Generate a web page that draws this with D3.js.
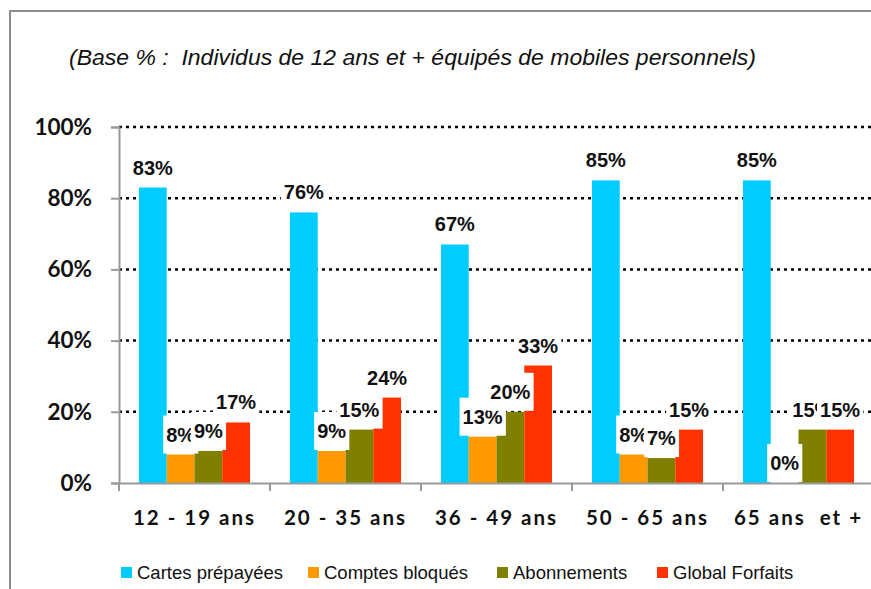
<!DOCTYPE html>
<html>
<head>
<meta charset="utf-8">
<script src="https://cdn.jsdelivr.net/npm/d3@7"></script>
<style>
  body { margin: 0; background: #fff; }
  svg { display: block; }
</style>
</head>
<body>
<svg id="chart"></svg>
<script>
// data
const categories = ["12 - 19 ans", "20 - 35 ans", "36 - 49 ans", "50 - 65 ans", "65 ans et +"];
const seriesNames = ["Cartes prépayées", "Comptes bloqués", "Abonnements", "Global Forfaits"];
const cartes = [83, 76, 67, 85, 85];
const comptes = [8, 9, 13, 8, 0];
const abonnements = [9, 15, 20, 7, 15];
const forfaits = [17, 24, 33, 15, 15];
const yTicks = [0, 20, 40, 60, 80, 100];
const colors = ["#00CCFF", "#FF9900", "#808000", "#FF3300"];
const subtitle = "(Base % :  Individus de 12 ans et + équipés de mobiles personnels)";

const values = [cartes, comptes, abonnements, forfaits];

const W = 871, H = 589;
const svg = d3.select("#chart").attr("width", W).attr("height", H);

// outer frame
svg.append("rect")
  .attr("x", 10).attr("y", 11)
  .attr("width", W + 20).attr("height", H + 20)
  .attr("fill", "none")
  .attr("stroke", "#8c8c8c")
  .attr("stroke-width", 2);

svg.append("text")
  .attr("x", 69).attr("y", 65)
  .attr("textLength", 687)
  .attr("lengthAdjust", "spacingAndGlyphs")
  .style("font-family", "'Liberation Sans Narrow', 'Arial Narrow', 'Liberation Sans', sans-serif")
  .style("font-style", "italic")
  .style("font-size", "22px")
  .style("fill", "#111")
  .style("white-space", "pre")
  .text(subtitle);

const plotLeft = 119, plotRight = 874, plotTop = 127, plotBottom = 483;

const x0 = d3.scaleBand()
  .domain(categories)
  .range([plotLeft, plotRight])
  .padding(0);

const x1 = d3.scaleBand()
  .domain(seriesNames)
  .range([0, x0.bandwidth()])
  .paddingInner(0)
  .paddingOuter(0.72);

const y = d3.scaleLinear().domain([0, 100]).range([plotBottom, plotTop]);

// gridlines
svg.append("g").selectAll("line")
  .data(yTicks.filter(d => d > 0))
  .join("line")
  .attr("x1", plotLeft).attr("x2", W)
  .attr("y1", d => y(d)).attr("y2", d => y(d))
  .attr("stroke", "#000")
  .attr("stroke-width", 2.5)
  .attr("stroke-dasharray", "3,4");

// y axis
const yAxis = svg.append("g")
  .attr("transform", `translate(${plotLeft},0)`)
  .call(d3.axisLeft(y).tickValues(yTicks).tickSize(8).tickPadding(19).tickFormat(d => d + "%"));
yAxis.select(".domain").attr("stroke", "#999").attr("stroke-width", 2);
yAxis.selectAll(".tick line").attr("stroke", "#999").attr("stroke-width", 2);
yAxis.selectAll(".tick text")
  .style("font-family", "Lato, 'Open Sans', sans-serif")
  .style("font-weight", "bold")
  .style("font-size", "22.5px")
  .style("fill", "#111");

// bars
const groups = svg.append("g").selectAll("g")
  .data(categories)
  .join("g")
  .attr("transform", d => `translate(${x0(d)},0)`);

groups.selectAll("rect")
  .data((c, i) => seriesNames.map((s, k) => ({ s, k, v: values[k][i] })))
  .join("rect")
  .attr("x", d => x1(d.s))
  .attr("width", x1.bandwidth())
  .attr("y", d => y(d.v))
  .attr("height", d => plotBottom - y(d.v))
  .attr("fill", d => colors[d.k]);

// x axis
const xAxis = svg.append("g")
  .attr("transform", `translate(0,${plotBottom})`)
  .call(d3.axisBottom(x0).tickSize(0).tickPadding(27));
xAxis.select(".domain").attr("stroke", "#999").attr("stroke-width", 2);
xAxis.selectAll(".tick text")
  .style("font-family", "Lato, 'Open Sans', sans-serif")
  .style("font-weight", "bold")
  .style("font-size", "20.5px")
  .style("letter-spacing", "2px")
  .style("white-space", "pre")
  .style("fill", "#111")
  .text(d => d.replace("ans et", "ans  et"));
xAxis.append("g").selectAll("line")
  .data(categories)
  .join("line")
  .attr("x1", d => x0(d)).attr("x2", d => x0(d))
  .attr("y1", 0).attr("y2", 8)
  .attr("stroke", "#999").attr("stroke-width", 2);

// data labels with white boxes, series by series
const labels = svg.append("g");
values.forEach((vals, k) => {
  vals.forEach((v, i) => {
    const cx = x0(categories[i]) + x1(seriesNames[k]) + x1.bandwidth() / 2;
    const base = y(v) - 13;
    const g = labels.append("g");
    const box = g.append("rect").attr("fill", "#fff");
    const t = g.append("text")
      .attr("x", cx).attr("y", base)
      .attr("text-anchor", "middle")
      .style("font-family", "'Liberation Sans', Arial, sans-serif")
      .style("font-weight", "bold")
      .style("font-size", "20px")
      .style("fill", "#111")
      .text(v + "%");
    const bb = t.node().getBBox();
    box.attr("x", bb.x - 3).attr("width", bb.width + 6)
      .attr("y", base - 26).attr("height", 38);
  });
});

// legend
const legendX = [121, 308, 497, 657];
const legend = svg.append("g").selectAll("g")
  .data(seriesNames)
  .join("g")
  .attr("transform", (d, i) => `translate(${legendX[i]},567)`);
legend.append("rect")
  .attr("width", 11).attr("height", 11)
  .attr("fill", (d, i) => colors[i]);
legend.append("text")
  .attr("x", 16).attr("y", 12)
  .style("font-family", "'Liberation Sans Narrow', 'Arial Narrow', 'Liberation Sans', sans-serif")
  .style("font-size", "18.5px")
  .style("fill", "#111")
  .text(d => d);
</script>
</body>
</html>
